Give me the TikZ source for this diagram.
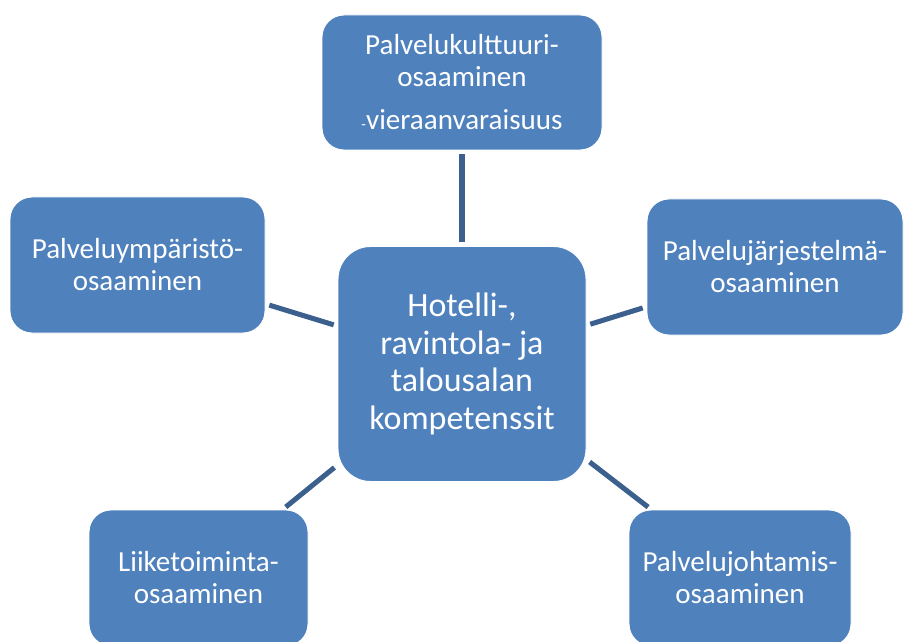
\documentclass[tikz,border=0pt]{standalone}
\usepackage{fontspec}
\setmainfont{Carlito}
\usepackage{tikz}
\usetikzlibrary{positioning}
\definecolor{BoxBlue}{RGB}{79, 129, 189}
\definecolor{LinkBlue}{RGB}{60, 96, 141}

\begin{document}
\begin{tikzpicture}[
  box/.style={fill=BoxBlue, draw=white, line width=0.8pt, rounded corners=0.66cm, text=white, align=center, inner sep=0pt, font=\fontsize{24.8}{27.3}\selectfont},
  hub/.style={box, rounded corners=0.98cm, font=\fontsize{29}{32.2}\selectfont},
  link/.style={LinkBlue, line width=4.3pt, shorten <=0.12cm, shorten >=0.12cm}]
\useasboundingbox (0, 0) rectangle (27.15, -19.26);
\clip (0, 0) rectangle (27.15, -19.26);
\node[hub, minimum width=7.44cm, minimum height=7.05cm] (hub) at (13.86, -10.92) {Hotelli-,\\ ravintola- ja\\ talousalan\\ kompetenssit};
\node[box, minimum width=8.4cm, minimum height=4.05cm] (kult) at (13.86, -2.475) {Palvelukulttuuri-\\ osaaminen\\[0.33cm] {\fontsize{13}{13}\selectfont-}vieraanvaraisuus};
\node[box, minimum width=7.65cm, minimum height=4.08cm] (ymp) at (4.125, -7.95) {Palveluympäristö-\\ osaaminen};
\node[box, minimum width=7.68cm, minimum height=4.08cm] (jarj) at (23.25, -8.01) {Palvelujärjestelmä-\\ osaaminen};
\node[box, minimum width=6.57cm, minimum height=4.08cm] (liik) at (5.955, -17.34) {Liiketoiminta-\\ osaaminen};
\node[box, minimum width=6.66cm, minimum height=4.08cm] (joht) at (22.2, -17.34) {Palvelujohtamis-\\ osaaminen};
\draw[link] (hub) -- (kult); \draw[link] (hub) -- (ymp); \draw[link] (hub) -- (jarj);
\draw[link] (hub) -- (liik); \draw[link] (hub) -- (joht);
\end{tikzpicture}
\end{document}
